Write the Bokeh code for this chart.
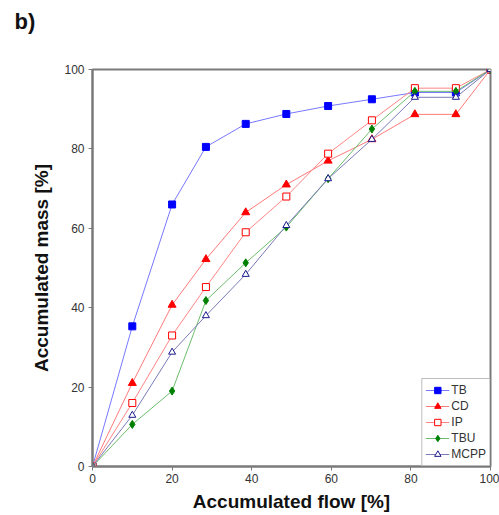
from bokeh.plotting import figure
from bokeh.models import Range1d, FixedTicker, Legend, LegendItem
from bokeh.embed import file_html
from bokeh.resources import INLINE

flow = [0, 10, 20, 28.5, 38.5, 48.7, 59.2, 70.2, 81, 91.3, 100]
tb = [0, 35.3, 66, 80.5, 86.3, 88.8, 90.8, 92.5, 94.2, 94.2, 100]
cd = [0, 21, 40.7, 52.2, 64, 71, 77, 82.4, 88.7, 88.7, 100]
ip = [0, 16, 33, 45.2, 59, 68, 78.8, 87.2, 95.3, 95.3, 100]
tbu = [0, 10.6, 19, 41.8, 51.3, 60.3, 72.5, 85, 94.5, 94.5, 100]
mcpp = [0, 12.9, 28.8, 38, 48.4, 60.7, 72.5, 82.4, 93, 93, 100]
ticks = [0, 20, 40, 60, 80, 100]

FONT = "Liberation Sans"

p = figure(width=499, height=515, output_backend="svg", toolbar_location=None,
           x_range=Range1d(0, 100), y_range=Range1d(0, 100),
           min_border_left=92, min_border_right=9, min_border_top=69, min_border_bottom=49,
           title="b)\n ")
p.title.align = "left"
p.title.vertical_align = "top"
p.title.offset = -78
p.title.standoff = 0
p.title.text_line_height = 1.35
p.title.text_font = FONT
p.title.text_font_size = "22px"
p.title.text_font_style = "bold"
p.title.text_color = "#111111"

p.grid.visible = False
p.outline_line_color = "#7a7a7a"
p.outline_line_width = 2
p.background_fill_color = "white"
p.border_fill_color = "white"

for ax in (p.xaxis[0], p.yaxis[0]):
    ax.ticker = FixedTicker(ticks=ticks)
    ax.axis_line_color = "#7a7a7a"
    ax.axis_line_width = 2
    ax.major_tick_line_color = "#7a7a7a"
    ax.major_tick_line_width = 1
    ax.major_tick_out = 4
    ax.major_tick_in = 0
    ax.minor_tick_line_color = None
    ax.major_label_text_font = FONT
    ax.major_label_text_font_size = "12px"
    ax.major_label_text_color = "#333333"
    ax.axis_label_text_font = FONT
    ax.axis_label_text_font_size = "19px"
    ax.axis_label_text_font_style = "bold"
    ax.axis_label_text_color = "#111111"

p.xaxis.axis_label = "Accumulated flow [%]"
p.yaxis.axis_label = "Accumulated mass [%]"
p.xaxis.major_label_standoff = 3
p.xaxis.axis_label_standoff = 5
p.yaxis.major_label_standoff = 4
p.yaxis.axis_label_standoff = 9

series = [
    ("TB", tb, "#7878ff", dict(marker="square", fill_color="#0000ff", line_color="#0000ff", size=7)),
    ("CD", cd, "#ff7a7a", dict(marker="triangle", fill_color="#ff0000", line_color="#ff0000", size=8)),
    ("IP", ip, "#ff8585", dict(marker="square", fill_color="white", line_color="#ff0000", size=7)),
    ("TBU", tbu, "#6cbc6c", dict(marker="diamond", fill_color="#008000", line_color="#008000", size=8)),
    ("MCPP", mcpp, "#7a7ab8", dict(marker="triangle", fill_color="white", line_color="#1a1a8c", size=7)),
]

items = []
for name, ys, lc, mk in series:
    l = p.line(flow, ys, line_color=lc, line_width=1)
    s = p.scatter(flow, ys, **mk)
    items.append(LegendItem(label=name, renderers=[l, s]))

legend = Legend(items=items, location="bottom_right", margin=0, padding=3, spacing=0,
                label_height=16, glyph_height=16, glyph_width=24, label_standoff=2,
                label_text_font=FONT, label_text_font_size="12px", label_text_color="#333333",
                border_line_color="#7a7a7a", border_line_width=1, background_fill_alpha=1)
p.add_layout(legend)

open("out.html", "w").write(file_html(p, INLINE))
